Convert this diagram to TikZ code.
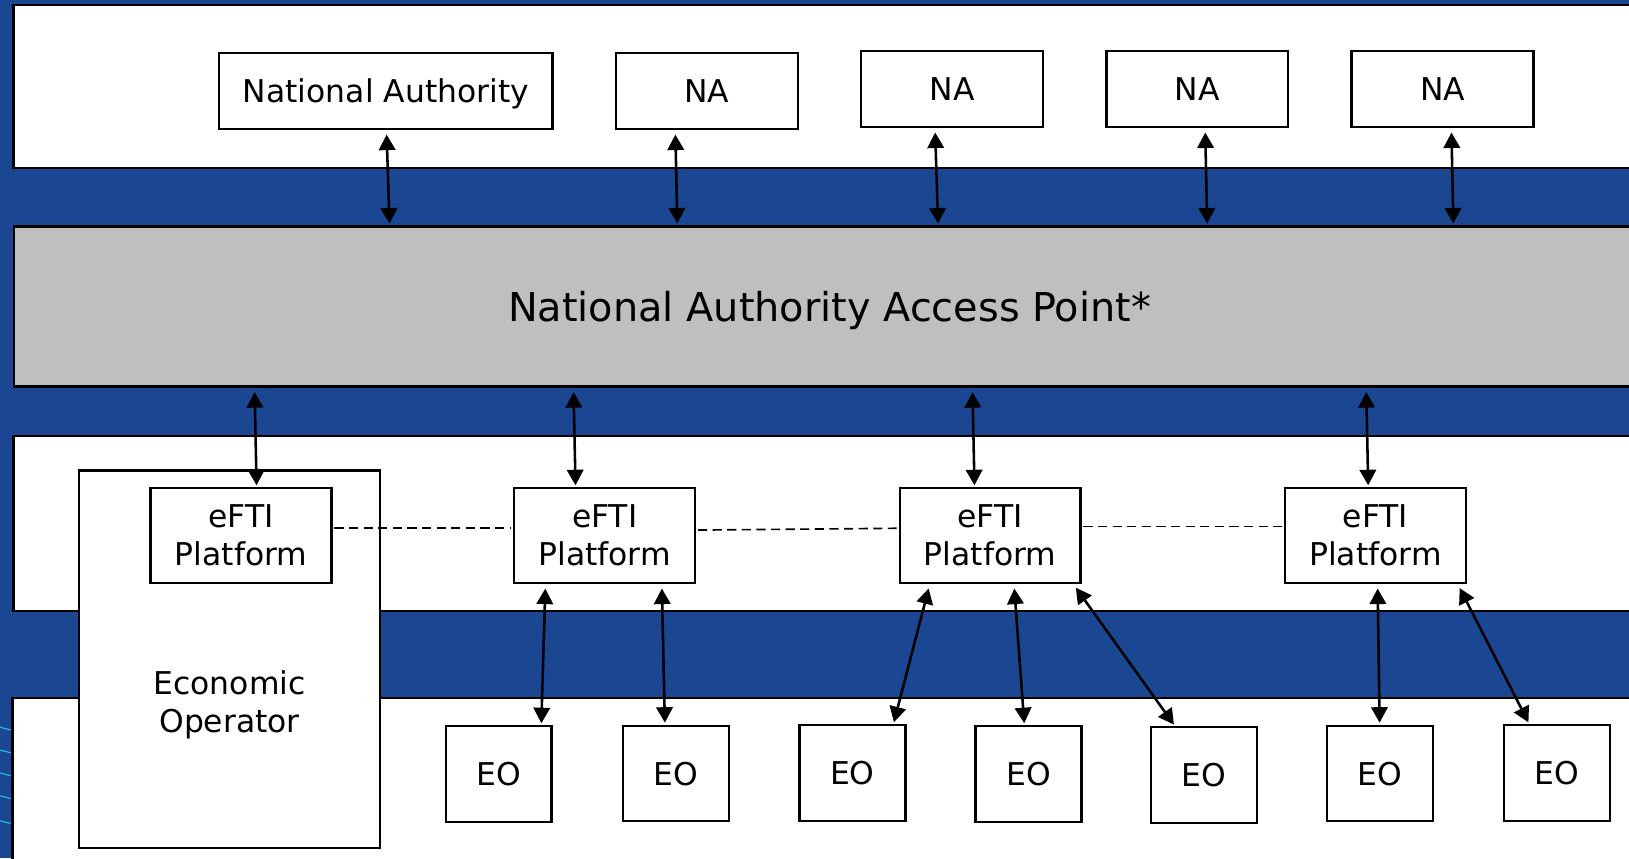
\documentclass[tikz,border=0pt]{standalone}
\usepackage{fontspec}
\setmainfont{DejaVu Sans}
\usetikzlibrary{arrows.meta,calc}

\definecolor{bandblue}{RGB}{26,70,146}
\definecolor{apgrey}{RGB}{191,191,191}
\definecolor{streak}{RGB}{40,190,235}

\tikzset{
  box/.style={draw, line width=1.3pt, fill=white, align=center, inner sep=0pt,
    font=\fontsize{17.2}{20.6}\selectfont},
  nabox/.style={box, minimum width=3.5cm, minimum height=1.46cm, text depth=0pt},
  platbox/.style={box, minimum width=3.48cm, minimum height=1.82cm},
  eobox/.style={box, minimum width=2.04cm, minimum height=1.84cm},
  link/.style={{Triangle[length=8.5pt,width=9pt]}-{Triangle[length=8.5pt,width=9pt]},
    line width=1.4pt, shorten <=2.5pt, shorten >=1pt},
  dashline/.style={dash pattern=on 5pt off 3pt, line width=0.9pt, shorten <=1pt, shorten >=1pt},
  band/.style={draw, line width=1.2pt}
}

\begin{document}
\begin{tikzpicture}[x=0.02cm, y=-0.02cm]
    % page and blue background
    \useasboundingbox (0,0) rectangle (1568,826);
    \fill[bandblue] (0,0) rectangle (1568,826);
    \foreach \y in {700,722,744,766,790} {
      \draw[streak, line width=0.6pt] (0,\y) -- (12,\y+3);
    }

    % white bands and the access point band
    \draw[band, fill=white] (13,5) rectangle (1600,162);
    \draw[band, fill=white] (13,420) rectangle (1600,588);
    \draw[band, fill=white] (12,672) rectangle (1600,850);
    \node[band, fill=apgrey, minimum width=31.42cm, minimum height=3.08cm, text depth=0pt,
      font=\fontsize{21.8}{26}\selectfont] (ap) at (798.5,295) {National Authority Access Point*};

    % national authorities
    \node[nabox, minimum width=6.42cm] (na1) at (371.5,87.5) {National Authority};
    \node[nabox] (na2) at (680.5,87.5) {NA};
    \node[nabox] (na3) at (916.5,85.5) {NA};
    \node[nabox] (na4) at (1152.5,85.5) {NA};
    \node[nabox] (na5) at (1388.5,85.5) {NA};

    \foreach \n/\xa/\xb in {na1/372/375, na2/650/652, na3/900/903, na4/1160/1162, na5/1397/1399} {
      \draw[link] (\xa,0 |- \n.south) -- (\xb,0 |- ap.north);
    }

    % economic operator with its own platform
    \node[box, minimum width=5.8cm, minimum height=7.26cm] (eco) at (221,634.5) {};
    \node[align=center, font=\fontsize{17.2}{20.6}\selectfont] at ($(eco.center)+(0,44)$) {Economic\\Operator};

    % eFTI platforms
    \foreach \i/\x in {1/232, 2/582, 3/953, 4/1324} {
      \node[platbox] (p\i) at (\x,515.5) {eFTI\\Platform};
    }

    \foreach \p/\xa/\xb in {p1/245/247, p2/552/554, p3/936/938, p4/1315/1317} {
      \draw[link] (\xa,0 |- ap.south) -- (\xb,0 |- \p.north);
    }

    \draw[dashline] ([yshift=4pt]p1.east) -- ([yshift=4pt]p2.west);
    \draw[dashline] ([yshift=3pt]p2.east) -- ([yshift=4pt]p3.west);
    \draw[dashline] ([yshift=5pt]p3.east) -- ([yshift=5pt]p4.west);

    % economic operators
    \foreach \i/\x/\y in {1/480/744, 2/650.5/743.5, 3/820.5/743, 4/990/744, 5/1159/745, 6/1328.5/743.5, 7/1498.5/743} {
      \node[eobox, text depth=0pt] (eo\i) at (\x,\y+1) {EO};
    }

    \foreach \p/\e/\xa/\xb in {p2/eo1/525/521, p2/eo2/637/640, p3/eo3/895/860, p3/eo4/976/986,
                               p3/eo5/1033/1131, p4/eo6/1326/1328, p4/eo7/1403/1472} {
      \draw[link] (\xa,0 |- \p.south) -- (\xb,0 |- \e.north);
    }
\end{tikzpicture}
\end{document}
